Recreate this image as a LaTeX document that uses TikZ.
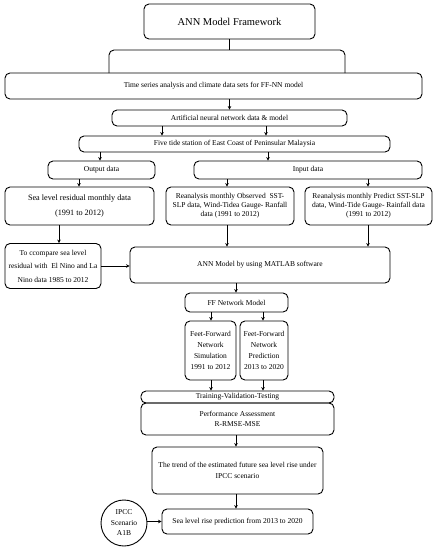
\documentclass[tikz,border=0pt]{standalone}
\usepackage{fontspec}
\setmainfont{Liberation Serif}
\usetikzlibrary{arrows.meta}
\tikzset{
  box/.style={draw, line width=0.9pt, rounded corners=5pt, inner sep=1pt, align=center,
    font=\fontsize{7.5}{9}\selectfont},
  arr/.style={line width=0.9pt, -{Stealth[length=3.5pt,width=3.5pt]}},
  ln/.style={line width=0.9pt}
}
\begin{document}
\begin{tikzpicture}[x=1pt,y=-1pt]
\useasboundingbox (0,0) rectangle (438,550);
\node[box, minimum width=171pt, minimum height=35pt, font=\fontsize{10.5}{12}\selectfont] (title) at (229.5,21.5) {ANN Model Framework};
\node[box, minimum width=417pt, minimum height=26pt] (ts) at (213.5,86) {Time series analysis and climate data sets for FF-NN model};
\node[box, minimum width=235pt, minimum height=16pt] (ann) at (229.5,118) {Artificial neural network data \& model};
\node[box, minimum width=311pt, minimum height=16pt] (five) at (234.5,144) {Five tide station of East Coast of Peninsular Malaysia};
\node[box, minimum width=107pt, minimum height=18pt] (out) at (101.5,170) {Output data};
\node[box, minimum width=228pt, minimum height=18pt] (in) at (308,170) {Input data};
\node[box, minimum width=149pt, minimum height=38pt, font=\fontsize{8.2}{15}\selectfont] (sea) at (79.5,206) {Sea level residual monthly data\\(1991 to 2012)};
\node[box, minimum width=128pt, minimum height=38pt] (obs) at (230,206) {Reanalysis monthly Observed\ \ SST-\\SLP data, Wind-Tidea Gauge- Ranfall\\data (1991 to 2012)};
\node[box, minimum width=127pt, minimum height=38pt] (pred) at (368.5,206) {Reanalysis monthly Predict SST-SLP\\data, Wind-Tide Gauge- Rainfall data\\(1991 to 2012)};
\node[box, minimum width=96pt, minimum height=45pt, font=\fontsize{7.5}{13.5}\selectfont] (cmp) at (53,266) {To ccompare sea level\\residual with\ \ El Nino and La\\Nino data 1985 to 2012};
\node[box, minimum width=260pt, minimum height=36pt] (matlab) at (260,265) {ANN Model by using MATLAB software};
\node[box, minimum width=103pt, minimum height=19pt] (ff) at (236.5,302.5) {FF Network Model};
\node[box, minimum width=51pt, minimum height=59pt, font=\fontsize{7.5}{11}\selectfont] (sim) at (210.5,350.5) {Feet-Forward\\Network\\Simulation\\1991 to 2012};
\node[box, minimum width=48pt, minimum height=59pt, font=\fontsize{7.5}{11}\selectfont] (pr) at (264,350.5) {Feet-Forward\\Network\\Prediction\\2013 to 2020};
\node[box, minimum width=193pt, minimum height=12pt] (train) at (237.5,397) {Training-Validation-Testing};
\node[box, minimum width=193pt, minimum height=32pt, font=\fontsize{7.5}{10}\selectfont] (perf) at (237.5,419) {Performance Assessment\\R-RMSE-MSE};
\node[box, minimum width=171pt, minimum height=47pt, font=\fontsize{7.5}{11}\selectfont] (trend) at (237.5,470.5) {The trend of the estimated future sea level rise under\\IPCC scenario};
\node[box, minimum width=151pt, minimum height=25pt] (slr) at (237.5,521.5) {Sea level rise prediction from 2013 to 2020};
\node[draw, line width=0.9pt, circle, minimum size=46pt, inner sep=0pt, align=center, font=\fontsize{7.5}{10.5}\selectfont] (ipcc) at (124,523) {IPCC\\Scenario\\A1B};
% top bracket
\coordinate (bl) at (109,73);
\coordinate (br) at (345,73);
\draw[ln] (title.south) -- (title.south |- 0,50);
\draw[ln, rounded corners=5pt] (bl) -- (109,50) -- (345,50) -- (br);
% x positions
\coordinate (x162) at (162,0);
\coordinate (x266) at (266,0);
\coordinate (x100) at (100,0);
\coordinate (x268) at (268,0);
\coordinate (x79) at (79,0);
\coordinate (x227) at (227,0);
\coordinate (x368) at (368,0);
\coordinate (x59) at (59,0);
\coordinate (x211) at (211,0);
\coordinate (x263) at (263,0);
\coordinate (x236) at (236,0);
\draw[arr] (ts.south -| title.south) -- (ann.north -| title.south);
\draw[arr] (ann.south -| x162) -- (five.north -| x162);
\draw[arr] (ann.south -| x266) -- (five.north -| x266);
\draw[arr] (five.south -| x100) -- (out.north -| x100);
\draw[arr] (five.south -| x268) -- (in.north -| x268);
\draw[arr] (out.south -| x79) -- (sea.north -| x79);
\draw[arr] (in.south -| x227) -- (obs.north -| x227);
\draw[arr] (in.south -| x368) -- (pred.north -| x368);
\draw[arr] (sea.south -| x59) -- (cmp.north -| x59);
\draw[arr] (obs.south -| x227) -- (matlab.north -| x227);
\draw[arr] (pred.south -| x368) -- (matlab.north -| x368);
\draw[arr] (cmp.east) -- (cmp.east -| matlab.west);
\draw[arr] (matlab.south -| x236) -- (ff.north -| x236);
\draw[arr] (ff.south -| x211) -- (sim.north -| x211);
\draw[arr] (ff.south -| x263) -- (pr.north -| x263);
\draw[arr] (sim.south -| x211) -- (train.north -| x211);
\draw[arr] (pr.south -| x263) -- (train.north -| x263);
\draw[arr] (perf.south -| x236) -- (trend.north -| x236);
\draw[arr] (trend.south -| x236) -- (slr.north -| x236);
\draw[arr] (ipcc.east |- slr.west) -- (slr.west);
\end{tikzpicture}
\end{document}
